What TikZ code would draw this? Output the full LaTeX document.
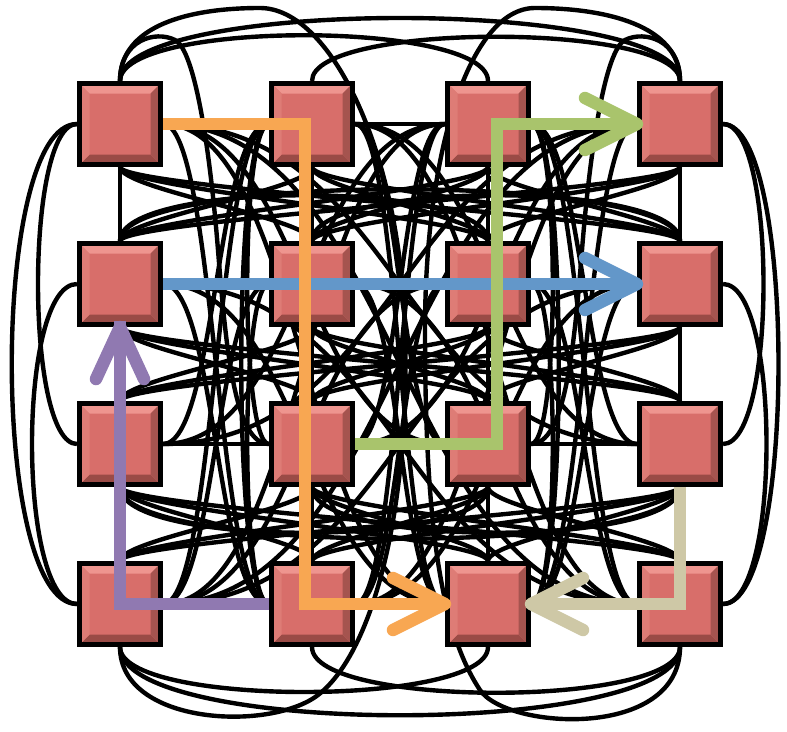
\documentclass[tikz,border=0pt]{standalone}
\usetikzlibrary{calc}
\definecolor{face}{HTML}{D86E6A}
\definecolor{bvtop}{HTML}{EE958F}
\definecolor{bvleft}{HTML}{DE7C76}
\definecolor{bvright}{HTML}{A5544F}
\definecolor{bvbot}{HTML}{9A4B46}
\definecolor{corange}{HTML}{F8A752}
\definecolor{cblue}{HTML}{6397C9}
\definecolor{cgreen}{HTML}{A9C46C}
\definecolor{cpurple}{HTML}{9079B1}
\definecolor{ctan}{HTML}{CEC8A6}
\pgfdeclarelayer{back}
\pgfdeclarelayer{wires}
\pgfsetlayers{back,wires,main}
\expandafter\def\csname skipedge1132\endcsname{}
\expandafter\def\csname skipedge1433\endcsname{}
\def\xarr{{120,312,488,680}}
\tikzset{
  wire/.style={line width=4.4pt, draw=black},
  swbox/.style={rectangle, minimum width=81pt, minimum height=81pt, inner sep=0pt,
    draw=black, line width=5pt, fill=face,
    path picture={
      \coordinate (pnw) at (path picture bounding box.north west);
      \coordinate (pne) at (path picture bounding box.north east);
      \coordinate (psw) at (path picture bounding box.south west);
      \coordinate (pse) at (path picture bounding box.south east);
      \fill[bvtop] (pnw) -- (pne) -- ([xshift=-10pt,yshift=-10pt]pne) -- ([xshift=10pt,yshift=-10pt]pnw) -- cycle;
      \fill[bvbot] (psw) -- (pse) -- ([xshift=-10pt,yshift=10pt]pse) -- ([xshift=10pt,yshift=10pt]psw) -- cycle;
      \fill[bvleft] (pnw) -- (psw) -- ([xshift=10pt,yshift=10pt]psw) -- ([xshift=10pt,yshift=-10pt]pnw) -- cycle;
      \fill[bvright] (pne) -- (pse) -- ([xshift=-10pt,yshift=10pt]pse) -- ([xshift=-10pt,yshift=-10pt]pne) -- cycle;
    }},
  route/.style={line width=12.5pt},
  headstyle/.style={line width=12.5pt, line cap=round, line join=round}
}
\begin{document}
\begin{tikzpicture}[x=1pt,y=-1pt]
\useasboundingbox (0,0) rectangle (787,731);
\begin{pgfonlayer}{back}
\fill[white] (0,0) rectangle (787,731);
\end{pgfonlayer}

% switches
\foreach \r/\yy in {1/124,2/284,3/444,4/604}{
  \foreach \c/\xx in {1/120,2/312,3/488,4/680}{
    \node[swbox] (n\r\c) at (\xx,\yy) {};
  }
}

\begin{pgfonlayer}{wires}
% adjacent straight links
\foreach \r in {1,...,4}{
  \draw[wire] (n\r1.east) -- (n\r2.west);
  \draw[wire] (n\r2.east) -- (n\r3.west);
  \draw[wire] (n\r3.east) -- (n\r4.west);
}
\foreach \c in {1,...,4}{
  \draw[wire] (n1\c.south) -- (n2\c.north);
  \draw[wire] (n2\c.south) -- (n3\c.north);
  \draw[wire] (n3\c.south) -- (n4\c.north);
}
% row 1 (over the top)
\draw[wire] (n11.north) .. controls (120,-3) and (680,-3) .. (n14.north);
\draw[wire] (n11.north) .. controls (120,20) and (488,20) .. (n13.north);
\draw[wire] (n12.north) .. controls (312,22) and (680,22) .. (n14.north);
% row 4 (under the bottom)
\draw[wire] (n41.south) .. controls (120,738) and (680,738) .. (n44.south);
\draw[wire] (n41.south) .. controls (120,707) and (488,707) .. (n43.south);
\draw[wire] (n42.south) .. controls (312,708) and (680,708) .. (n44.south);
% row 2
\draw[wire] (n21.north) .. controls (120,172) and (680,172) .. (n24.north);
\draw[wire] (n21.north) .. controls (120,180) and (488,180) .. (n23.north);
\draw[wire] (n22.north) .. controls (312,180) and (680,180) .. (n24.north);
% row 3
\draw[wire] (n31.south) .. controls (120,556) and (680,556) .. (n34.south);
\draw[wire] (n31.south) .. controls (120,548) and (488,548) .. (n33.south);
\draw[wire] (n32.south) .. controls (312,548) and (680,548) .. (n34.south);
% column 1 (left)
\draw[wire] (n11.west) .. controls (25,124) and (25,444) .. (n31.west);
\draw[wire] (n11.west) .. controls (-10,124) and (-10,604) .. (n41.west);
\draw[wire] (n21.west) .. controls (17,284) and (17,604) .. (n41.west);
% column 4 (right)
\draw[wire] (n14.east) .. controls (777,124) and (777,444) .. (n34.east);
\draw[wire] (n14.east) .. controls (797,124) and (797,604) .. (n44.east);
\draw[wire] (n24.east) .. controls (781,284) and (781,604) .. (n44.east);
% column 2
\draw[wire] (n12.west) .. controls (240,124) and (240,444) .. (n32.west);
\draw[wire] (n12.west) .. controls (232,124) and (232,604) .. (n42.west);
\draw[wire] (n22.west) .. controls (240,284) and (240,604) .. (n42.west);
% column 3
\draw[wire] (n13.east) .. controls (560,124) and (560,444) .. (n33.east);
\draw[wire] (n13.east) .. controls (568,124) and (568,604) .. (n43.east);
\draw[wire] (n23.east) .. controls (560,284) and (560,604) .. (n43.east);
% big loops
\draw[wire] (n11.north) .. controls (120,25) and (190,8) .. (260,8)
  .. controls (330,8) and (400,150) .. (405,330)
  .. controls (410,520) and (370,655) .. (318,695)
  .. controls (270,732) and (120,725) .. (n41.south);
\draw[wire] (n14.north) .. controls (680,25) and (605,8) .. (535,8)
  .. controls (470,8) and (425,150) .. (425,330)
  .. controls (425,520) and (440,630) .. (480,690)
  .. controls (507,730) and (680,740) .. (n44.south);
% small loops
\draw[wire] (n11.north) .. controls (120,40) and (155,30) .. (175,40)
  .. controls (195,50) and (210,150) .. (218,250)
  .. controls (226,350) and (235,444) .. (n32.west);
\draw[wire] (n14.north) .. controls (680,40) and (645,30) .. (625,40)
  .. controls (605,50) and (590,150) .. (582,250)
  .. controls (574,350) and (565,444) .. (n33.east);
% remaining all-to-all links
\foreach \ra in {1,...,4}{\foreach \ca in {1,...,4}{\foreach \rb in {1,...,4}{\foreach \cb in {1,...,4}{%
  \pgfmathtruncatemacro\dr{\rb-\ra}%
  \pgfmathtruncatemacro\dc{\cb-\ca}%
  \ifcsname skipedge\ra\ca\rb\cb\endcsname\else
  \ifnum\dc=0\else
    \ifnum\dr=1
      \draw[wire] (n\ra\ca.south) .. controls +(0,22) and +(0,-22) .. (n\rb\cb.north);
    \else\ifnum\dr>1
      \pgfmathsetmacro\h{(abs(\xarr[\cb-1]-\xarr[\ca-1])-86)/2}%
      \ifnum\dc>0
        \draw[wire] (n\ra\ca.east) .. controls +(\h,0) and +(-\h,0) .. (n\rb\cb.west);
      \else
        \draw[wire] (n\rb\cb.east) .. controls +(\h,0) and +(-\h,0) .. (n\ra\ca.west);
      \fi
    \fi\fi
  \fi\fi
}}}}
\end{pgfonlayer}

% routes
\coordinate (oc) at (305,364);
\coordinate (gc) at (497,284);
\draw[route, cblue] (n21.east) -- ([xshift=-6pt]n24.west);
\draw[headstyle, cblue] ([shift={(-52,-26)}]n24.west) -- (n24.west) -- ([shift={(-52,26)}]n24.west);
\draw[route, corange] (n11.east) -| (oc) |- ([xshift=-6pt]n43.west);
\draw[headstyle, corange] ([shift={(-52,-26)}]n43.west) -- (n43.west) -- ([shift={(-52,26)}]n43.west);
\draw[route, cgreen] (n32.east) -| (gc) |- ([xshift=-6pt]n14.west);
\draw[headstyle, cgreen] ([shift={(-52,-26)}]n14.west) -- (n14.west) -- ([shift={(-52,26)}]n14.west);
\draw[route, cpurple] (n42.west) -| ([yshift=6pt]n21.south);
\draw[headstyle, cpurple] ([shift={(-24,52)}]n21.south) -- (n21.south) -- ([shift={(24,52)}]n21.south);
\draw[route, ctan] (n34.south) |- ([xshift=6pt]n43.east);
\draw[headstyle, ctan] ([shift={(52,-26)}]n43.east) -- (n43.east) -- ([shift={(52,26)}]n43.east);
\end{tikzpicture}
\end{document}
